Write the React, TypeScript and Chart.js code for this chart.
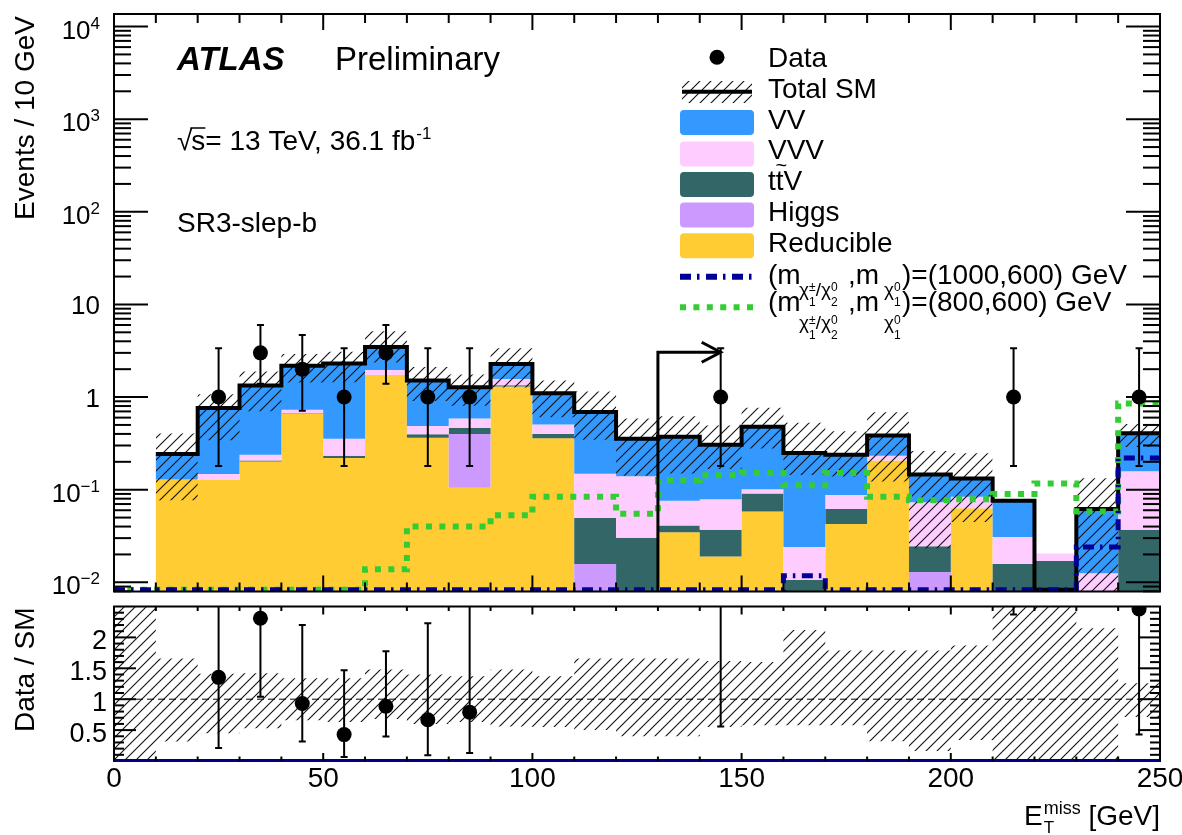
import { useEffect, useRef } from "react";
import { Chart, registerables } from "chart.js";

Chart.register(...registerables);

// ---------------- data (25 bins of 10 GeV, 0-250 GeV) ----------------
const binEdges = [0, 10, 20, 30, 40, 50, 60, 70, 80, 90, 100, 110, 120, 130, 140, 150, 160, 170, 180, 190, 200, 210, 220, 230, 240, 250];
const binCenters = [5, 15, 25, 35, 45, 55, 65, 75, 85, 95, 105, 115, 125, 135, 145, 155, 165, 175, 185, 195, 205, 215, 225, 235, 245];

const reducible = [0, 0.129, 0.127, 0.202, 0.66, 0.22, 1.73, 0.363, 0.105, 1.3, 0.36, 0, 0, 0.0348, 0.019, 0.058, 0, 0.0427, 0.207, 0, 0.063, 0, 0, 0, 0];
const higgs = [0, 0, 0, 0, 0, 0, 0, 0, 0.295, 0, 0, 0.0158, 0, 0, 0, 0, 0, 0, 0, 0.0129, 0, 0, 0, 0, 0];
const ttV = [0, 0, 0, 0.004, 0.01, 0.012, 0, 0.034, 0.067, 0.04, 0.04, 0.0337, 0.0303, 0.0062, 0.018, 0.033, 0.0106, 0.019, 0, 0.0116, 0, 0.0158, 0.017, 0, 0.037];
const vvv = [0, 0, 0.021, 0.033, 0.06, 0.122, 0.23, 0.089, 0.121, 0.23, 0.107, 0.0995, 0.1097, 0.035, 0.042, 0.01, 0.0134, 0.026, 0.026, 0.0485, 0.021, 0.015, 0.0035, 0.0125, 0.121];
const vv = [0, 0.114, 0.612, 1.091, 1.45, 1.946, 1.52, 1.024, 0.692, 0.7, 0.593, 0.541, 0.214, 0.298, 0.226, 0.378, 0.225, 0.151, 0.151, 0.073, 0.048, 0.0452, 0, 0.0495, 0.248];
const totalSM = [null, 0.243, 0.76, 1.33, 2.18, 2.3, 3.48, 1.51, 1.28, 2.27, 1.1, 0.69, 0.354, 0.374, 0.305, 0.479, 0.249, 0.239, 0.384, 0.146, 0.132, 0.076, 0, 0.062, 0.406];

const signal1000 = [0, 0, 0, 0, 0, 0, 0, 0, 0, 0, 0, 0, 0, 0, 0, 0, 0.0118, 0, 0, 0, 0, 0, 0, 0.024, 0.22];
const signal800 = [0, 0, 0, 0, 0, 0, 0.0138, 0.04, 0.04, 0.053, 0.084, 0.084, 0.055, 0.127, 0.143, 0.151, 0.112, 0.151, 0.084, 0.077, 0.079, 0.09, 0.117, 0.058, 0.85];

const dataCounts = [0, 0, 1, 3, 2, 1, 3, 1, 1, 0, 0, 0, 0, 0, 1, 0, 0, 0, 0, 0, 0, 1, 0, 0, 1];
const dataErrLow = [null, null, 0.18, 1.39, 0.71, 0.18, 1.39, 0.18, 0.18, null, null, null, null, null, 0.18, null, null, null, null, null, null, 0.18, null, null, 0.18];
const dataErrHigh = [null, null, 3.37, 6.0, 4.67, 3.37, 6.0, 3.37, 3.37, null, null, null, null, null, 3.37, null, null, null, null, null, null, 3.37, null, null, 3.37];

// relative uncertainty band of the total SM (also drawn in the ratio panel)
const bandRelLow = [0, 0.316, 0.45, 0.53, 0.66, 0.63, 0.68, 0.6, 0.63, 0.56, 0.55, 0.5, 0.4, 0.4, 0.55, 0.58, 0.58, 0.58, 0.32, 0.16, 0.34, 0, 0, 0, 0.71];
const bandRelHigh = [2.6, 1.66, 1.41, 1.42, 1.34, 1.34, 1.48, 1.4, 1.37, 1.48, 1.37, 1.66, 1.66, 1.66, 1.62, 1.6, 2.12, 1.79, 1.79, 1.79, 1.87, 2.6, 2.6, 2.15, 1.26];

const ratioValues = [null, null, 1.354, 2.31, 0.93, 0.427, 0.885, 0.668, 0.79, null, null, null, null, null, 3.2, null, null, null, null, null, null, 13.2, null, null, 2.46];
const ratioErrLow = [null, null, 0.21, 1.04, 0.316, 0.063, 0.395, 0.095, 0.13, null, null, null, null, null, 0.56, null, null, null, null, null, null, 2.37, null, null, 0.43];
const ratioErrHigh = [null, null, 4.4, 4.5, 2.2, 1.47, 1.775, 2.23, 2.6, null, null, null, null, null, 10.9, null, null, null, null, null, null, 44, null, null, 8.1];

const yTickLabels = [
  { value: 1e4, base: "10", exp: "4" },
  { value: 1e3, base: "10", exp: "3" },
  { value: 1e2, base: "10", exp: "2" },
  { value: 10, base: "10", exp: "" },
  { value: 1, base: "1", exp: "" },
  { value: 0.1, base: "10", exp: "\u22121" },
  { value: 0.01, base: "10", exp: "\u22122" },
];
const xTickLabels = [0, 50, 100, 150, 200, 250];
const ratioTickLabels = [0.5, 1, 1.5, 2];

const CUT_X = 130;
const CUT_ARROW_END = 145;
const CUT_ARROW_Y = 3.05;

// ---------------- styling ----------------
const Y_MIN = 0.00796;
const Y_MAX = 13660;
const LINE_FLOOR = 0.0083; // where empty lines are drawn, just above the bottom edge
const COL = {
  VV: "#3399ff",
  VVV: "#ffccff",
  ttV: "#336666",
  Higgs: "#cc99ff",
  Reducible: "#ffcc33",
  sig1000: "#000099",
  sig800: "#33cc33",
};
const FF = "'Liberation Sans', Arial, Helvetica, sans-serif";
const f = (size: number, style = "") => `${style} ${size}px ${FF}`.trim();

function makeHatch(ctx: CanvasRenderingContext2D) {
  const s = 11;
  const c = document.createElement("canvas");
  c.width = s;
  c.height = s;
  const g = c.getContext("2d")!;
  g.strokeStyle = "#111";
  g.lineWidth = 1.1;
  g.beginPath();
  g.moveTo(0, s);
  g.lineTo(s, 0);
  g.moveTo(-2, 2);
  g.lineTo(2, -2);
  g.moveTo(s - 2, s + 2);
  g.lineTo(s + 2, s - 2);
  g.stroke();
  return ctx.createPattern(c, "repeat")!;
}

const stepPoints = (vals: (number | null)[], clampMin: number | null) =>
  binEdges.map((e, i) => {
    const v = vals[Math.min(i, vals.length - 1)];
    return { x: e, y: v == null ? null : clampMin != null ? Math.max(v, clampMin) : v };
  });

function line(ctx: CanvasRenderingContext2D, x1: number, y1: number, x2: number, y2: number) {
  ctx.beginPath();
  ctx.moveTo(x1, y1);
  ctx.lineTo(x2, y2);
  ctx.stroke();
}

function errorBarPlugin(id: string, lows: (number | null)[], highs: (number | null)[], dsIndex: number) {
  return {
    id,
    beforeDatasetDraw(chart: any, args: any) {
      if (args.index !== dsIndex) return;
      const { ctx, chartArea: a } = chart;
      const xs = chart.scales.x;
      const ys = chart.scales.y;
      ctx.save();
      ctx.beginPath();
      ctx.rect(a.left, a.top, a.right - a.left, a.bottom - a.top);
      ctx.clip();
      ctx.strokeStyle = "#000";
      ctx.lineWidth = 2;
      binCenters.forEach((c, i) => {
        const lo = lows[i];
        const hi = highs[i];
        if (lo == null || hi == null) return;
        const px = xs.getPixelForValue(c);
        const p1 = ys.getPixelForValue(lo);
        const p2 = ys.getPixelForValue(hi);
        ctx.beginPath();
        ctx.moveTo(px, p1);
        ctx.lineTo(px, p2);
        ctx.moveTo(px - 3.5, p1);
        ctx.lineTo(px + 3.5, p1);
        ctx.moveTo(px - 3.5, p2);
        ctx.lineTo(px + 3.5, p2);
        ctx.stroke();
      });
      ctx.restore();
    },
  };
}

function drawChiGroup(ctx: CanvasRenderingContext2D, x: number, base: number, pieces: [string, string][]) {
  let xx = x;
  pieces.forEach(([sup, sub], k) => {
    if (k > 0) {
      ctx.font = f(19);
      ctx.fillText("/", xx, base);
      xx += ctx.measureText("/").width;
    }
    ctx.font = f(19);
    ctx.fillText("\u03c7", xx, base);
    xx += ctx.measureText("\u03c7").width;
    ctx.font = f(12);
    ctx.fillText(sup, xx, base - 5);
    ctx.fillText(sub, xx, base + 10);
    xx += Math.max(ctx.measureText(sup).width, ctx.measureText(sub).width);
  });
}

const topDecor = {
  id: "topDecor",
  afterDraw(chart: any) {
    const { ctx, chartArea: a } = chart;
    const xs = chart.scales.x;
    const ys = chart.scales.y;
    const hatch = makeHatch(ctx);
    ctx.save();
    ctx.fillStyle = "#000";
    ctx.strokeStyle = "#000";

    // cut arrow
    const ax = xs.getPixelForValue(CUT_X);
    const ax2 = xs.getPixelForValue(CUT_ARROW_END);
    const ay = ys.getPixelForValue(CUT_ARROW_Y);
    ctx.lineWidth = 3;
    ctx.beginPath();
    ctx.moveTo(ax, a.bottom);
    ctx.lineTo(ax, ay);
    ctx.lineTo(ax2, ay);
    ctx.stroke();
    ctx.beginPath();
    ctx.moveTo(ax2 - 19, ay - 10);
    ctx.lineTo(ax2, ay);
    ctx.lineTo(ax2 - 19, ay + 10);
    ctx.stroke();

    // frame
    ctx.lineWidth = 2;
    ctx.strokeRect(a.left, a.top, a.right - a.left, a.bottom - a.top);
    for (let v = 0; v <= 250; v += 10) {
      const px = xs.getPixelForValue(v);
      const len = v % 50 === 0 ? 16 : 9;
      line(ctx, px, a.bottom, px, a.bottom - len);
      line(ctx, px, a.top, px, a.top + len);
    }
    for (let e = -3; e <= 4; e++) {
      for (let m = 1; m <= 9; m++) {
        const val = m * Math.pow(10, e);
        if (val < Y_MIN || val > Y_MAX) continue;
        const py = ys.getPixelForValue(val);
        const len = m === 1 ? 34 : 17;
        line(ctx, a.left, py, a.left + len, py);
        line(ctx, a.right, py, a.right - len, py);
      }
    }
    ctx.textAlign = "right";
    yTickLabels.forEach((t) => {
      const py = ys.getPixelForValue(t.value);
      if (t.exp) {
        ctx.font = f(17);
        const we = ctx.measureText(t.exp).width;
        ctx.fillText(t.exp, 100, py + 2);
        ctx.font = f(26);
        ctx.fillText(t.base, 100 - we, py + 12);
      } else {
        ctx.font = f(26);
        ctx.fillText(t.base, 100, py + 10);
      }
    });
    ctx.save();
    ctx.translate(34, a.top + 2);
    ctx.rotate(-Math.PI / 2);
    ctx.textAlign = "right";
    ctx.font = f(28);
    ctx.fillText("Events / 10 GeV", 0, 0);
    ctx.restore();

    // ATLAS labels
    ctx.textAlign = "left";
    ctx.font = f(33, "italic bold");
    ctx.fillText("ATLAS", 177, 70);
    ctx.font = f(33);
    ctx.fillText("Preliminary", 335, 70);
    ctx.font = f(28);
    let tx = 177;
    ctx.fillText("\u221a", tx, 150);
    tx += ctx.measureText("\u221a").width - 1;
    const ws = ctx.measureText("s").width;
    ctx.fillText("s", tx, 150);
    ctx.lineWidth = 1.5;
    line(ctx, tx - 1, 128, tx + ws, 128);
    tx += ws;
    const rest = "= 13 TeV, 36.1 fb";
    ctx.fillText(rest, tx, 150);
    tx += ctx.measureText(rest).width + 1;
    ctx.font = f(17);
    ctx.fillText("-1", tx, 139);
    ctx.font = f(28);
    ctx.fillText("SR3-slep-b", 177, 232);

    // legend
    const bx = 680;
    const bw = 74;
    const txL = 768;
    ctx.beginPath();
    ctx.arc(717, 57.3, 7.5, 0, Math.PI * 2);
    ctx.fill();
    ctx.font = f(28);
    ctx.fillText("Data", txL, 67);

    ctx.fillStyle = hatch;
    ctx.fillRect(682, 81, 70, 22);
    ctx.fillStyle = "#000";
    ctx.lineWidth = 4;
    line(ctx, 682, 91.7, 752, 91.7);
    ctx.fillText("Total SM", txL, 97.5);

    const boxes: [string, string, number, number][] = [
      ["VV", COL.VV, 122.5, 128.5],
      ["VVV", COL.VVV, 154, 158.5],
      ["ttV", COL.ttV, 184.5, 190],
      ["Higgs", COL.Higgs, 215, 220.5],
      ["Reducible", COL.Reducible, 245.8, 251.5],
    ];
    boxes.forEach(([label, color, cy, base]) => {
      ctx.fillStyle = color;
      ctx.beginPath();
      (ctx as any).roundRect(bx, cy - 12.5, bw, 25, 4);
      ctx.fill();
      ctx.fillStyle = "#000";
      ctx.font = f(28);
      ctx.fillText(label, txL, base);
    });
    ctx.font = f(20);
    ctx.fillText("~", 775.5, 172);

    ctx.lineWidth = 6;
    ctx.strokeStyle = COL.sig1000;
    ctx.setLineDash([11, 6, 2.5, 6.5]);
    line(ctx, bx, 276.7, bx + bw, 276.7);
    ctx.strokeStyle = COL.sig800;
    ctx.setLineDash([6, 7.4]);
    line(ctx, bx, 307.3, bx + bw, 307.3);
    ctx.setLineDash([]);
    ctx.fillStyle = "#000";
    ctx.font = f(28);
    ctx.fillText("(m", txL, 284);
    ctx.fillText(",m", 848, 284);
    ctx.fillText(")=(1000,600) GeV", 902, 284);
    ctx.fillText("(m", txL, 311);
    ctx.fillText(",m", 848, 311);
    ctx.fillText(")=(800,600) GeV", 902, 311);
    const grpA: [string, string][] = [["\u00b1", "1"], ["0", "2"]];
    const grpB: [string, string][] = [["0", "1"]];
    drawChiGroup(ctx, 799, 296, grpA);
    drawChiGroup(ctx, 884, 296, grpB);
    drawChiGroup(ctx, 799, 329, grpA);
    drawChiGroup(ctx, 884, 329, grpB);

    ctx.restore();
  },
};

const ratioDecor = {
  id: "ratioDecor",
  afterDraw(chart: any) {
    const { ctx, chartArea: a } = chart;
    const xs = chart.scales.x;
    const ys = chart.scales.y;
    ctx.save();
    ctx.fillStyle = "#000";
    ctx.strokeStyle = "#000";
    ctx.lineWidth = 2;
    ctx.strokeRect(a.left, a.top, a.right - a.left, a.bottom - a.top);
    ctx.strokeStyle = "#000080";
    ctx.lineWidth = 3;
    line(ctx, a.left, a.bottom - 0.5, a.right, a.bottom - 0.5);
    ctx.strokeStyle = "#000";
    ctx.lineWidth = 2;
    for (let v = 0; v <= 250; v += 10) {
      const px = xs.getPixelForValue(v);
      const len = v % 50 === 0 ? 8 : 4.5;
      line(ctx, px, a.bottom, px, a.bottom - len);
      line(ctx, px, a.top, px, a.top + len);
    }
    for (let k = 1; k <= 24; k++) {
      const v = k / 10;
      const py = ys.getPixelForValue(v);
      const len = k % 5 === 0 ? 22 : 10;
      line(ctx, a.left, py, a.left + len, py);
      line(ctx, a.right, py, a.right - len, py);
    }
    ctx.font = f(27);
    ctx.textAlign = "right";
    ratioTickLabels.forEach((v) => {
      const py = ys.getPixelForValue(v);
      ctx.fillText(String(v), 107, py + 11.5);
    });
    ctx.textAlign = "center";
    ctx.font = f(28);
    xTickLabels.forEach((v) => {
      ctx.fillText(String(v), xs.getPixelForValue(v), a.bottom + 26);
    });
    ctx.save();
    ctx.translate(34, a.top + 1);
    ctx.rotate(-Math.PI / 2);
    ctx.textAlign = "right";
    ctx.font = f(28);
    ctx.fillText("Data / SM", 0, 0);
    ctx.restore();
    // x title
    ctx.textAlign = "left";
    ctx.font = f(28);
    const wE = ctx.measureText("E").width;
    const wG = ctx.measureText(" [GeV]").width;
    ctx.font = f(18);
    const wS = ctx.measureText("miss").width;
    const x0 = a.right - (wE + wS + wG) - 1;
    ctx.font = f(28);
    ctx.fillText("E", x0, a.bottom + 64);
    ctx.font = f(18);
    ctx.fillText("miss", x0 + wE + 1, a.bottom + 53);
    ctx.font = f(17);
    ctx.fillText("T", x0 + wE + 1, a.bottom + 72);
    ctx.font = f(28);
    ctx.fillText(" [GeV]", x0 + wE + wS + 1, a.bottom + 64);
    ctx.restore();
  },
};

export default function App() {
  const topRef = useRef<HTMLCanvasElement>(null);
  const botRef = useRef<HTMLCanvasElement>(null);

  useEffect(() => {
    const topCanvas = topRef.current!;
    const botCanvas = botRef.current!;
    const hatchTop = makeHatch(topCanvas.getContext("2d")!);
    const hatchBot = makeHatch(botCanvas.getContext("2d")!);

    const layers = [reducible, higgs, ttV, vvv, vv];
    const cumulative: number[][] = [];
    let run = binCenters.map(() => 0);
    layers.forEach((l) => {
      run = run.map((r, i) => r + l[i]);
      cumulative.push(run);
    });
    const bandLowAbs = totalSM.map((t, i) => (t == null || t === 0 ? null : t * bandRelLow[i]));
    const bandHighAbs = totalSM.map((t, i) => (t == null || t === 0 ? null : t * bandRelHigh[i]));

    const stackDs = (vals: number[], color: string, fill: any, order: number) => ({
      data: stepPoints(vals, Y_MIN),
      stepped: "before",
      borderWidth: 0,
      pointRadius: 0,
      backgroundColor: color,
      fill,
      order,
    });

    const topChart = new Chart(topCanvas, {
      type: "line",
      data: {
        datasets: [
          {
            data: binCenters.map((c, i) => ({ x: c, y: dataCounts[i] > 0 ? dataCounts[i] : null })),
            showLine: false,
            pointRadius: 7.5,
            pointBackgroundColor: "#000",
            pointBorderWidth: 0,
            order: 0,
          },
          {
            data: stepPoints(signal1000, LINE_FLOOR),
            stepped: "before",
            borderColor: COL.sig1000,
            borderWidth: 5,
            borderDash: [11, 6, 2.5, 6.5],
            pointRadius: 0,
            fill: false,
            order: 1,
          },
          {
            data: stepPoints(signal800, LINE_FLOOR),
            stepped: "before",
            borderColor: COL.sig800,
            borderWidth: 6,
            borderDash: [6, 7.4],
            pointRadius: 0,
            fill: false,
            order: 2,
          },
          {
            data: stepPoints(totalSM, LINE_FLOOR),
            stepped: "before",
            borderColor: "#000",
            borderWidth: 4,
            pointRadius: 0,
            fill: false,
            order: 3,
          },
          {
            data: stepPoints(bandHighAbs, Y_MIN),
            stepped: "before",
            borderWidth: 0,
            pointRadius: 0,
            backgroundColor: hatchTop,
            fill: 5,
            order: 4,
          },
          {
            data: stepPoints(bandLowAbs, Y_MIN),
            stepped: "before",
            borderWidth: 0,
            pointRadius: 0,
            fill: false,
            order: 5,
          },
          stackDs(cumulative[0], COL.Reducible, "start", 10),
          stackDs(cumulative[1], COL.Higgs, 6, 9),
          stackDs(cumulative[2], COL.ttV, 7, 8),
          stackDs(cumulative[3], COL.VVV, 8, 7),
          stackDs(cumulative[4], COL.VV, 9, 6),
        ] as any,
      },
      options: {
        animation: false,
        responsive: false,
        devicePixelRatio: 1,
        events: [],
        layout: { padding: { left: 114, right: 22, top: 14, bottom: 2 } },
        scales: {
          x: { type: "linear", min: 0, max: 250, display: false },
          y: { type: "logarithmic", min: Y_MIN, max: Y_MAX, display: false },
        },
        plugins: { legend: { display: false }, tooltip: { enabled: false } },
      } as any,
      plugins: [errorBarPlugin("topErr", dataErrLow, dataErrHigh, 0), topDecor],
    });

    const botChart = new Chart(botCanvas, {
      type: "line",
      data: {
        datasets: [
          {
            data: binCenters.map((c, i) => ({ x: c, y: ratioValues[i] })),
            showLine: false,
            pointRadius: 7.5,
            pointBackgroundColor: "#000",
            pointBorderWidth: 0,
            order: 0,
          },
          {
            data: [
              { x: 0, y: 1 },
              { x: 250, y: 1 },
            ],
            borderColor: "#000",
            borderWidth: 1,
            borderDash: [7, 4],
            pointRadius: 0,
            fill: false,
            order: 1,
          },
          {
            data: stepPoints(bandRelHigh, null),
            stepped: "before",
            borderWidth: 0,
            pointRadius: 0,
            backgroundColor: hatchBot,
            fill: 3,
            order: 2,
          },
          {
            data: stepPoints(bandRelLow, null),
            stepped: "before",
            borderWidth: 0,
            pointRadius: 0,
            fill: false,
            order: 3,
          },
        ] as any,
      },
      options: {
        animation: false,
        responsive: false,
        devicePixelRatio: 1,
        events: [],
        layout: { padding: { left: 114, right: 22, top: 2, bottom: 74 } },
        scales: {
          x: { type: "linear", min: 0, max: 250, display: false },
          y: { type: "linear", min: 0, max: 2.5, display: false },
        },
        plugins: { legend: { display: false }, tooltip: { enabled: false } },
      } as any,
      plugins: [errorBarPlugin("botErr", ratioErrLow, ratioErrHigh, 0), ratioDecor],
    });

    return () => {
      topChart.destroy();
      botChart.destroy();
    };
  }, []);

  return (
    <div style={{ position: "fixed", left: 0, top: 0, width: 1182, height: 835, background: "#fff" }}>
      <canvas ref={topRef} width={1182} height={599} style={{ position: "absolute", left: 0, top: 0 }} />
      <canvas ref={botRef} width={1182} height={236} style={{ position: "absolute", left: 0, top: 599 }} />
    </div>
  );
}
